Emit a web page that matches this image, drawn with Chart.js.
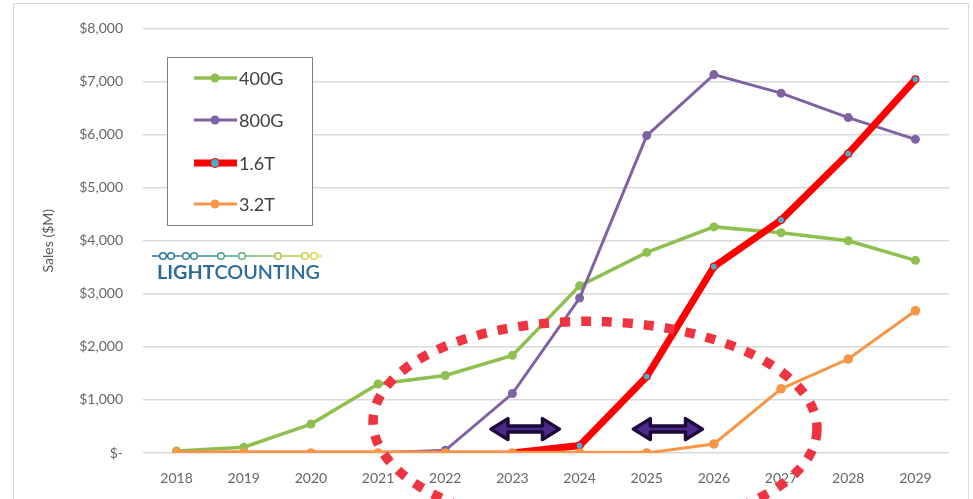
<!DOCTYPE html>
<html>
<head>
<meta charset="utf-8">
<script src="https://cdn.jsdelivr.net/npm/chart.js@4.4.0/dist/chart.umd.min.js"></script>
<style>
  html, body { margin: 0; padding: 0; background: #fff; }
</style>
</head>
<body>
<canvas id="chart" width="973" height="499"></canvas>
<script>
// data ($M)
var years = ['2018', '2019', '2020', '2021', '2022', '2023', '2024', '2025', '2026', '2027', '2028', '2029'];
var sales400G = [40, 110, 545, 1300, 1460, 1840, 3150, 3780, 4260, 4150, 4000, 3630];
var sales800G = [0, 0, 0, 0, 50, 1120, 2920, 5980, 7130, 6780, 6320, 5910];
var sales16T = [0, 0, 0, 0, 0, 0, 140, 1440, 3510, 4390, 5640, 7040];
var sales32T = [0, 0, 0, 0, 0, 0, 0, 0, 170, 1210, 1770, 2680];
var seriesNames = ['400G', '800G', '1.6T', '3.2T'];

var green = '#8fbf4f', purple = '#7f62a3', red = '#ff0000', orange = '#f79646', teal = '#4bacc6';
var fontFam = "Lato, 'Open Sans', sans-serif";

// flat zero stretches are drawn faint, as in the picture
function flat(c) {
    return c.p0.parsed.y === 0 && c.p1.parsed.y === 0;
}

function dblArrow(ctx, x1, x2, y) {
    var hh = 10.5, sh = 3, hl = 17;
    ctx.beginPath();
    ctx.moveTo(x1, y);
    ctx.lineTo(x1 + hl, y - hh);
    ctx.lineTo(x1 + hl, y - sh);
    ctx.lineTo(x2 - hl, y - sh);
    ctx.lineTo(x2 - hl, y - hh);
    ctx.lineTo(x2, y);
    ctx.lineTo(x2 - hl, y + hh);
    ctx.lineTo(x2 - hl, y + sh);
    ctx.lineTo(x1 + hl, y + sh);
    ctx.lineTo(x1 + hl, y + hh);
    ctx.closePath();
    ctx.fillStyle = '#4b2a8c';
    ctx.fill();
    ctx.lineJoin = 'round';
    ctx.lineWidth = 3.5;
    ctx.strokeStyle = '#1c0b3a';
    ctx.stroke();
}

var decor = {
    id: 'decor',
    beforeDraw: function (chart) {
        var ctx = chart.ctx;
        ctx.save();
        ctx.strokeStyle = '#d9d9d9';
        ctx.lineWidth = 1;
        ctx.strokeRect(13.5, 3.5, 955, 500);
        ctx.restore();
    },
    afterDatasetsDraw: function (chart) {
        var ctx = chart.ctx, x = chart.scales.x, y = chart.scales.y;
        ctx.save();
        // dotted ellipse
        ctx.beginPath();
        ctx.ellipse(x.getPixelForValue(6.23), y.getPixelForValue(520), 222, 104, 0.02, 0, Math.PI * 2);
        ctx.setLineDash([10, 11]);
        ctx.lineWidth = 9.5;
        ctx.strokeStyle = '#ee3441';
        ctx.stroke();
        ctx.setLineDash([]);
        // arrows
        var ay = y.getPixelForValue(450);
        dblArrow(ctx, x.getPixelForValue(4.68), x.getPixelForValue(5.7), ay);
        dblArrow(ctx, x.getPixelForValue(6.8), x.getPixelForValue(7.83), ay);
        ctx.restore();
    },
    afterDraw: function (chart) {
        var ctx = chart.ctx;
        ctx.save();
        // legend box
        ctx.fillStyle = '#fff';
        ctx.fillRect(167, 57, 145, 168);
        ctx.strokeStyle = '#7f7f7f';
        ctx.lineWidth = 1;
        ctx.strokeRect(167.5, 57.5, 145, 168);
        var rows = [78, 120, 163, 204];
        chart.data.datasets.forEach(function (ds, i) {
            var ry = rows[i];
            ctx.beginPath();
            ctx.moveTo(194, ry);
            ctx.lineTo(237, ry);
            ctx.strokeStyle = ds.borderColor;
            ctx.lineWidth = ds.borderWidth;
            ctx.stroke();
            ctx.beginPath();
            ctx.arc(215, ry, 4.5, 0, Math.PI * 2);
            ctx.fillStyle = ds.pointBackgroundColor;
            ctx.fill();
            if (ds.pointBorderWidth) {
                ctx.lineWidth = ds.pointBorderWidth;
                ctx.strokeStyle = ds.pointBorderColor;
                ctx.stroke();
            }
            ctx.fillStyle = '#404040';
            ctx.font = '18px ' + fontFam;
            ctx.textBaseline = 'middle';
            ctx.fillText(ds.label, 239, ry + 1);
        });
        // LightCounting logo
        var dots = [163, 171, 186, 194, 221, 242, 278, 305, 314];
        var grad = ctx.createLinearGradient(152, 0, 322, 0);
        grad.addColorStop(0, '#1f6e9c');
        grad.addColorStop(0.45, '#4aa58a');
        grad.addColorStop(0.75, '#a8c64a');
        grad.addColorStop(1, '#e8d84a');
        ctx.strokeStyle = grad;
        ctx.lineWidth = 1.5;
        ctx.beginPath();
        ctx.moveTo(152, 256);
        ctx.lineTo(322, 256);
        ctx.stroke();
        dots.forEach(function (d) {
            ctx.beginPath();
            ctx.arc(d, 256, 3.3, 0, Math.PI * 2);
            ctx.fillStyle = '#fff';
            ctx.fill();
            ctx.stroke();
        });
        ctx.fillStyle = '#2a6d9c';
        ctx.textBaseline = 'alphabetic';
        ctx.font = 'bold 19px ' + fontFam;
        var w1 = ctx.measureText('LIGHT').width;
        ctx.font = '600 19px ' + fontFam;
        var w2 = ctx.measureText('COUNTING').width;
        var sx = 163 / (w1 + w2);
        ctx.translate(157, 279);
        ctx.scale(sx, 1);
        ctx.font = 'bold 19px ' + fontFam;
        ctx.fillText('LIGHT', 0, 0);
        ctx.font = '600 19px ' + fontFam;
        ctx.fillText('COUNTING', w1, 0);
        ctx.restore();
    }
};

var ctx = document.getElementById('chart');
var chart = new Chart(ctx, {
    type: 'line',
    data: {
        labels: years,
        datasets: [{
            label: seriesNames[0],
            data: sales400G,
            borderColor: green,
            backgroundColor: green,
            borderWidth: 3.5,
            pointRadius: 4.5,
            pointBackgroundColor: green,
            pointBorderWidth: 0,
            order: 4
        }, {
            label: seriesNames[1],
            data: sales800G,
            borderColor: purple,
            backgroundColor: purple,
            borderWidth: 3,
            pointRadius: sales800G.map(function (v) { return v === 0 ? 0 : 4.5; }),
            pointBackgroundColor: purple,
            pointBorderWidth: 0,
            order: 3,
            segment: { borderColor: function (c) { return flat(c) ? 'rgba(127,98,163,0.35)' : undefined; } }
        }, {
            label: seriesNames[2],
            data: sales16T,
            borderColor: red,
            backgroundColor: red,
            borderWidth: 7,
            pointRadius: sales16T.map(function (v, i) { return i < 6 ? 0 : 3.5; }),
            pointBackgroundColor: teal,
            pointBorderColor: red,
            pointBorderWidth: 1.2,
            order: 2,
            segment: {
                borderColor: function (c) { return flat(c) ? 'rgba(255,110,110,0.55)' : undefined; },
                borderWidth: function (c) { return flat(c) ? 6 : undefined; }
            }
        }, {
            label: seriesNames[3],
            data: sales32T,
            borderColor: orange,
            backgroundColor: orange,
            borderWidth: 3,
            pointRadius: 4.8,
            pointBackgroundColor: orange,
            pointBorderWidth: 0,
            order: 1,
            segment: { borderWidth: function (c) { return flat(c) ? 4.5 : undefined; } }
        }]
    },
    options: {
        responsive: false,
        animation: false,
        devicePixelRatio: 1,
        layout: { padding: { top: 24, right: 24, left: 0, bottom: 0 } },
        plugins: {
            legend: { display: false },
            tooltip: { enabled: false }
        },
        scales: {
            x: {
                offset: true,
                grid: { display: false },
                border: { display: false },
                ticks: {
                    color: '#666666',
                    font: { family: fontFam, size: 14 },
                    padding: 9,
                    maxRotation: 0
                },
                afterFit: function (scale) { scale.height = 46; }
            },
            y: {
                min: 0,
                max: 8000,
                ticks: {
                    stepSize: 1000,
                    color: '#666666',
                    font: { family: fontFam, size: 14 },
                    padding: 20,
                    callback: function (v) { return v === 0 ? '$-' : '$' + v.toLocaleString('en-US'); }
                },
                grid: { color: '#d9d9d9', lineWidth: 1.5, drawTicks: false },
                border: { display: false },
                title: {
                    display: true,
                    text: 'Sales ($M)',
                    color: '#595959',
                    font: { family: fontFam, size: 14 },
                    padding: { top: 40, bottom: 0 }
                },
                afterFit: function (scale) { scale.width = 143; }
            }
        }
    },
    plugins: [decor]
});
</script>
</body>
</html>
